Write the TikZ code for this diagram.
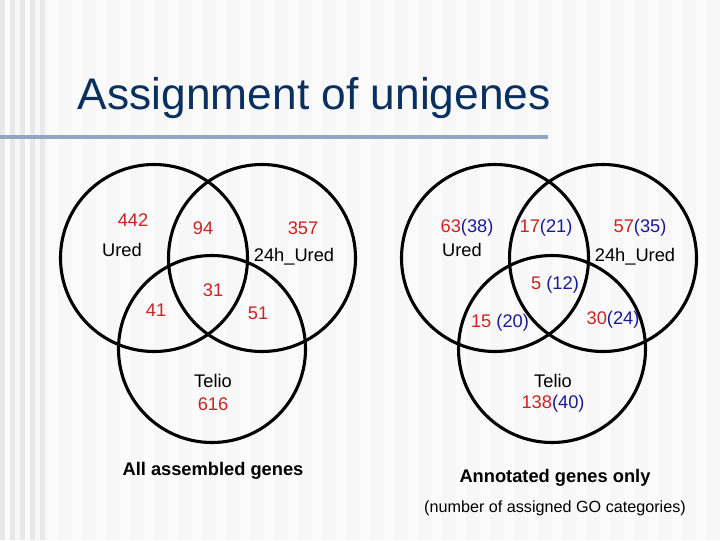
\documentclass[tikz,border=0pt]{standalone}
\usepackage{fontspec}
\setmainfont{Liberation Sans}
\usepackage{tikz}
\usetikzlibrary{positioning}
\definecolor{numred}{HTML}{CC2222}
\definecolor{numblue}{HTML}{1A1A99}
\definecolor{titleblue}{HTML}{0A3060}
\definecolor{rulecol}{HTML}{8FA7C2}
\newcommand{\rd}[1]{\textcolor{numred}{#1}}
\newcommand{\bl}[1]{\textcolor{numblue}{#1}}

\begin{document}
\begin{tikzpicture}[
    x=0.025cm, y=-0.025cm,
    set/.style = {circle, draw, line width=2.2pt, minimum size=187*0.025cm, inner sep=0pt},
    lab/.style = {font=\fontsize{13}{15}\selectfont, align=center},
    caption/.style = {font=\fontsize{13}{15}\selectfont\bfseries}
]
    % Background with stripes
    \fill[gray!6] (0,0) rectangle (720,540);
    \foreach \x in {0,24,...,696} \fill[white!70!gray!10] (\x,0) rectangle (\x+10,540);
    \foreach \x in {0,10,...,40} \fill[gray!18] (\x,0) rectangle (\x+5,540);
    \useasboundingbox (0,0) rectangle (720,540);
    % Title
    \node[anchor=west, text=titleblue, font=\fontsize{31.5}{36}\selectfont] (title) at (73,98) {Assignment of unigenes};
    \draw[rulecol, line width=3.5pt] (0,137) -- (548,137);
    % All assembled genes
    \node[set] (uredA) at (154,258) {};
    \node[set] (hurA) at (262,258) {};
    \node[set] (telA) at (212,349) {};
    \node[lab] (n442) at (133,220) {\rd{442}};
    \node[lab] (uA) at (122,250) {Ured};
    \node[lab] (n94) at (203,228) {\rd{94}};
    \node[lab] (n357) at (303,228) {\rd{357}};
    \node[lab] (hA) at (294,257) {24h\_Ured};
    \node[lab] (n31) at (213,290) {\rd{31}};
    \node[lab] (n41) at (156,310) {\rd{41}};
    \node[lab] (n51) at (258,313) {\rd{51}};
    \node[lab] (tA) at (213,381) {Telio};
    \node[lab] (n616) at (213,404) {\rd{616}};
    \node[caption] (capA) at (213,471) {All assembled genes};
    % Annotated genes only
    \node[set] (uredB) at (495,258) {};
    \node[set] (hurB) at (603,258) {};
    \node[set] (telB) at (552,349) {};
    \node[lab] (m63) at (467,228) {\rd{63}\bl{(38)}};
    \node[lab] (uB) at (462,250) {Ured};
    \node[lab] (m17) at (546,228) {\rd{17}\bl{(21)}};
    \node[lab] (m57) at (640,228) {\rd{57}\bl{(35)}};
    \node[lab] (hB) at (635,257) {24h\_Ured};
    \node[lab] (m5) at (555,285) {\rd{5} \bl{(12)}};
    \node[lab] (m15) at (500,323) {\rd{15} \bl{(20)}};
    \node[lab] (m30) at (613,320) {\rd{30}\bl{(24)}};
    \node[lab] (tB) at (553,381) {Telio};
    \node[lab] (m138) at (553,404) {\rd{138}\bl{(40)}};
    \node[caption] (capB) at (555,478) {Annotated genes only};
    \node[font=\fontsize{11.5}{13}\selectfont] (note) at (555,508) {(number of assigned GO categories)};
\end{tikzpicture}
\end{document}
